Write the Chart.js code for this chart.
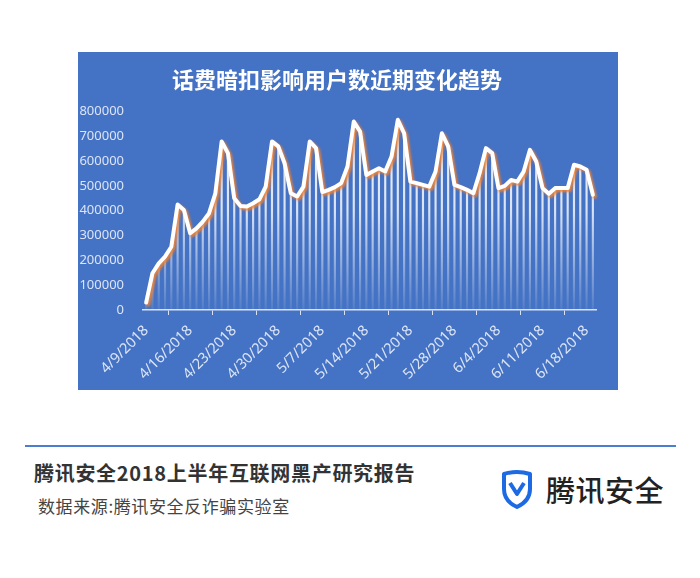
<!DOCTYPE html>
<html>
<head>
<meta charset="utf-8">
<script src="https://cdn.jsdelivr.net/npm/chart.js@4.4.0/dist/chart.umd.min.js"></script>
<style>
  html, body { margin: 0; padding: 0; background: #fff; }
  body { width: 700px; height: 578px; position: relative; overflow: hidden; font-family: "Noto Sans CJK SC", "Noto Sans", sans-serif; }
  .panel { position: absolute; left: 78px; top: 52px; width: 540px; height: 338px; background: #4472c4; }
  .rule { position: absolute; left: 25px; top: 445px; width: 651px; height: 2px; background: #4a7fd0; }
  .report { position: absolute; left: 34px; top: 458px; font-size: 20px; font-weight: 700; color: #333; letter-spacing: 0.7px; }
  .source { position: absolute; left: 38px; top: 493px; font-size: 17px; color: #444; letter-spacing: 0.6px; }
  .logo { position: absolute; left: 500px; top: 468px; display: flex; align-items: center; }
  .logo span { font-size: 29px; font-weight: 500; color: #222; margin-left: 12px; letter-spacing: 0.5px; }
</style>
</head>
<body>
<div class="panel"><canvas id="trendChart" width="540" height="338"></canvas></div>
<div class="rule"></div>
<div class="report">腾讯安全2018上半年互联网黑产研究报告</div>
<div class="source">数据来源:腾讯安全反诈骗实验室</div>
<div class="logo">
  <svg width="34" height="40" viewBox="0 0 34 40">
    <path d="M4 5 Q17 1 30 5 L30 20 Q30 32 17 38 Q4 32 4 20 Z" fill="none" stroke="#1d6ae5" stroke-width="4" stroke-linejoin="round"/>
    <path d="M10 14 L17 25 L24 14" fill="none" stroke="#1d6ae5" stroke-width="4" stroke-linejoin="round"/>
  </svg>
  <span>腾讯安全</span>
</div>
<script>
// Daily categories: 4/9/2018 .. 6/19/2018
const startDate = new Date(2018, 3, 9);
const dayLabels = [];
for (let i = 0; i < 72; i++) {
  const d = new Date(startDate.getTime() + i * 86400000);
  dayLabels.push((d.getMonth() + 1) + '/' + d.getDate() + '/' + d.getFullYear());
}

// Affected users per day
const userCounts = [
  30000, 148000, 188000, 215000, 255000, 425000, 403000,
  309000, 329000, 356000, 390000, 470000, 679000, 632000,
  450000, 419000, 417000, 430000, 446000, 497000, 679000,
  659000, 591000, 470000, 457000, 497000, 679000, 652000,
  475000, 484000, 495000, 511000, 578000, 759000, 719000,
  544000, 558000, 571000, 558000, 618000, 766000, 712000,
  517000, 511000, 504000, 497000, 558000, 712000, 659000,
  504000, 495000, 484000, 470000, 551000, 652000, 632000,
  491000, 500000, 524000, 517000, 558000, 645000, 598000,
  491000, 468000, 491000, 491000, 491000, 585000, 578000,
  565000, 464000
];

const yTicks = [0, 100000, 200000, 300000, 400000, 500000, 600000, 700000, 800000];

const chartTitle = '话费暗扣影响用户数近期变化趋势';

// orange glow under the white line
const lineShadow = {
  id: 'lineShadow',
  beforeDatasetDraw(chart, args) {
    if (args.index !== 0) return;
    const ctx = chart.ctx;
    ctx.save();
    ctx.shadowColor = 'rgba(240,130,50,0.95)';
    ctx.shadowOffsetX = 2;
    ctx.shadowOffsetY = 2;
    ctx.shadowBlur = 2.5;
  },
  afterDatasetDraw(chart, args) {
    if (args.index !== 0) return;
    chart.ctx.restore();
  }
};

function dropGradient(context) {
  const area = context.chart.chartArea;
  if (!area) return 'rgba(255,255,255,0.8)';
  const g = context.chart.ctx.createLinearGradient(0, area.top, 0, area.bottom);
  g.addColorStop(0, 'rgba(255,255,255,0.95)');
  g.addColorStop(0.5, 'rgba(255,255,255,0.8)');
  g.addColorStop(1, 'rgba(255,255,255,0.08)');
  return g;
}

const ctx = document.getElementById('trendChart').getContext('2d');
new Chart(ctx, {
  type: 'bar',
  data: {
    labels: dayLabels,
    datasets: [
      {
        type: 'line',
        data: userCounts,
        borderColor: '#ffffff',
        borderWidth: 4,
        tension: 0,
        borderJoinStyle: 'round',
        borderCapStyle: 'round',
        pointRadius: 0,
        fill: false,
        order: 0
      },
      {
        type: 'bar',
        data: userCounts,
        backgroundColor: dropGradient,
        barThickness: 1.5,
        order: 1
      }
    ]
  },
  options: {
    responsive: false,
    animation: false,
    layout: { padding: { left: 0, right: 22, top: 0, bottom: 0 } },
    plugins: {
      legend: { display: false },
      tooltip: { enabled: false },
      title: {
        display: true,
        text: chartTitle,
        color: '#ffffff',
        font: { family: '"Noto Sans CJK SC", sans-serif', size: 22, weight: 'bold' },
        padding: { top: 14, bottom: 19 }
      }
    },
    scales: {
      x: {
        offset: true,
        grid: {
          offset: true,
          drawOnChartArea: false,
          drawTicks: true,
          tickLength: 5,
          color: '#d9e2f3',
          lineWidth: 1
        },
        border: { display: true, color: '#d9e2f3', width: 1.5 },
        ticks: {
          autoSkip: false,
          maxRotation: 45,
          minRotation: 45,
          padding: 7,
          color: '#dce5f5',
          font: { family: '"Noto Sans", sans-serif', size: 14.5 },
          callback: function(value, index) {
            return index % 7 === 0 ? dayLabels[index] : null;
          }
        },
        afterFit: function(scale) { scale.height = 80; }
      },
      y: {
        min: 0,
        max: 800000,
        afterBuildTicks: function(scale) {
          scale.ticks = yTicks.map(v => ({ value: v }));
        },
        grid: { display: false },
        border: { display: false },
        ticks: {
          padding: 11,
          color: '#dce5f5',
          font: { family: '"Noto Sans", sans-serif', size: 13 },
          callback: function(value) { return String(value); }
        },
        afterFit: function(scale) { scale.width = 65; }
      }
    }
  },
  plugins: [lineShadow]
});
</script>
</body>
</html>
